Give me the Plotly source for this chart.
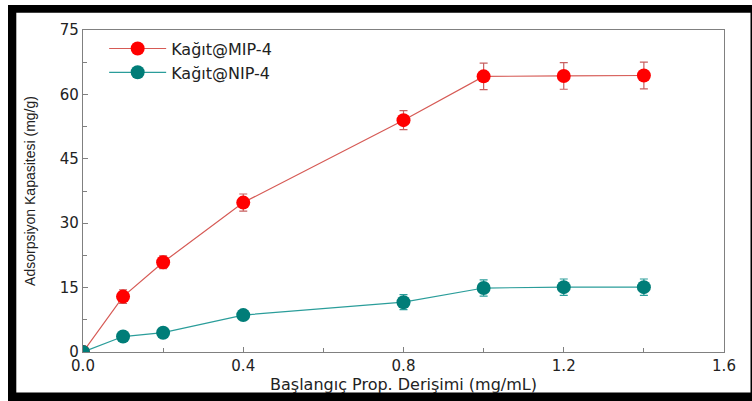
import plotly.graph_objects as go

x_vals = [0.0, 0.1, 0.2, 0.4, 0.8, 1.0, 1.2, 1.4]
mip = [0.0, 12.9, 20.9, 34.8, 54.0, 64.2, 64.3, 64.4]
mip_err = [0, 1.6, 1.5, 2.0, 2.2, 3.1, 3.1, 3.1]
nip = [0.0, 3.6, 4.5, 8.6, 11.6, 14.9, 15.1, 15.1]
nip_err = [0, 0, 0, 0, 1.75, 1.9, 1.9, 1.9]
names = ["Kağıt@MIP-4", "Kağıt@NIP-4"]

W, H = 752, 401
L, R, T, B = 83, 724, 30, 352
font = "DejaVu Sans, Arial, sans-serif"
font2 = "Liberation Sans, Arial, sans-serif"

fig = go.Figure()
fig.add_trace(go.Scatter(
    x=x_vals, y=mip, name=names[0], mode="lines+markers",
    line=dict(color="#d65a55", width=1.2),
    marker=dict(color="#ff0000", size=14, line=dict(width=0)),
    error_y=dict(type="data", array=mip_err, color="#c86060", thickness=1.2, width=4),
))
fig.add_trace(go.Scatter(
    x=x_vals, y=nip, name=names[1], mode="lines+markers",
    line=dict(color="#2a9d9a", width=1.2),
    marker=dict(color="#007d78", size=14, line=dict(width=0)),
    error_y=dict(type="data", array=nip_err, color="#2a9d9a", thickness=1.2, width=4),
))

def px(xp):
    return (xp - L) / (R - L)

def py(yp):
    return (B - yp) / (B - T)

shapes = [
    dict(type="rect", xref="paper", yref="paper", x0=px(8), x1=px(752), y0=py(12.8), y1=py(5),
         fillcolor="black", line=dict(width=0), layer="above"),
    dict(type="rect", xref="paper", yref="paper", x0=px(8), x1=px(16.3), y0=py(401), y1=py(5),
         fillcolor="black", line=dict(width=0), layer="above"),
    dict(type="rect", xref="paper", yref="paper", x0=px(8), x1=px(752), y0=py(401), y1=py(392.5),
         fillcolor="black", line=dict(width=0), layer="above"),
    dict(type="rect", xref="paper", yref="paper", x0=px(750.5), x1=px(752), y0=py(401), y1=py(5),
         fillcolor="black", line=dict(width=0), layer="above"),
]

axis_common = dict(
    showgrid=False, zeroline=False, showline=True, linecolor="#808080", linewidth=1.2,
    mirror=True, ticks="inside", ticklen=5, tickcolor="#808080", tickwidth=1,
    tickfont=dict(family=font, size=15, color="#222"),
)

fig.update_layout(
    width=W, height=H,
    margin=dict(l=L, r=W - R, t=T, b=H - B),
    paper_bgcolor="white", plot_bgcolor="white",
    shapes=shapes,
    showlegend=True,
    legend=dict(x=0.033, y=0.995, xanchor="left", yanchor="top", bgcolor="rgba(0,0,0,0)",
                font=dict(family=font, size=16, color="#222"), itemwidth=57,
                tracegroupgap=0),
    xaxis=dict(range=[0, 1.6], tickvals=[0, 0.4, 0.8, 1.2, 1.6],
               ticktext=["0.0", "0.4", "0.8", "1.2", "1.6"],
               minor=dict(tickvals=[0.2, 0.6, 1.0, 1.4], ticks="inside", ticklen=4, tickcolor="#808080"),
               title=dict(text="Başlangıç Prop. Derişimi (mg/mL)", font=dict(family=font, size=16, color="#222"), standoff=2),
               **axis_common),
    yaxis=dict(range=[0, 75], tickvals=[0, 15, 30, 45, 60, 75],
               minor=dict(tickvals=[7.5, 22.5, 37.5, 52.5, 67.5], ticks="inside", ticklen=4, tickcolor="#808080"),
               title=dict(text="Adsorpsiyon Kapasitesi (mg/g)", font=dict(family=font2, size=14, color="#222"), standoff=20),
               **axis_common),
)

fig.write_html("out.html", post_script="document.body.style.margin='0';document.body.style.overflow='hidden';")
